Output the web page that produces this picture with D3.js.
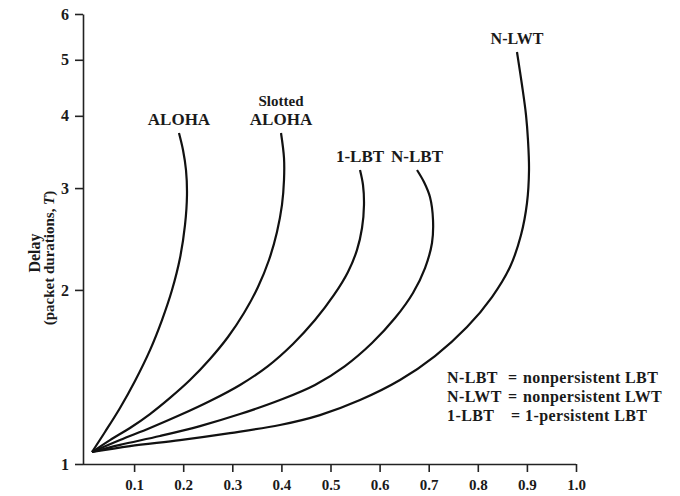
<!DOCTYPE html>
<html><head><meta charset="utf-8">
<script src="https://cdn.jsdelivr.net/npm/d3@7"></script>
<style>
body{margin:0;background:#fff;}
svg text{font-family:"Liberation Serif","Times New Roman",serif;font-weight:bold;fill:#1a1a1a;}
</style></head>
<body><svg id="c" width="680" height="496"></svg>
<script>
const xTicks = [0.1,0.2,0.3,0.4,0.5,0.6,0.7,0.8,0.9,1.0];
const yTicks = [1,2,3,4,5,6];
const seriesNames = [["ALOHA"],["Slotted","ALOHA"],["1-LBT"],["N-LBT"],["N-LWT"]];
const aloha = [[0.0143,1.049],[0.0407,1.136],[0.0713,1.250],[0.1018,1.392],[0.1324,1.574],[0.1568,1.774],[0.1772,1.999],[0.1935,2.271],[0.2037,2.590],[0.2077,2.919],[0.2057,3.224],[0.1996,3.491],[0.1914,3.736]];
const slotted = [[0.0143,1.049],[0.0509,1.100],[0.0916,1.154],[0.1324,1.220],[0.1731,1.301],[0.2138,1.397],[0.2546,1.519],[0.2912,1.658],[0.3238,1.824],[0.3523,2.023],[0.3747,2.253],[0.3910,2.519],[0.4012,2.805],[0.4053,3.098],[0.4053,3.382],[0.3992,3.736]];
const lbt1 = [[0.0143,1.049],[0.0713,1.100],[0.1324,1.154],[0.1935,1.215],[0.2546,1.285],[0.3157,1.370],[0.3727,1.477],[0.4236,1.613],[0.4684,1.774],[0.5071,1.960],[0.5356,2.148],[0.5540,2.345],[0.5642,2.559],[0.5682,2.805],[0.5662,3.037],[0.5601,3.224]];
const nlbt = [[0.0143,1.049],[0.0713,1.079],[0.1527,1.118],[0.2342,1.163],[0.3157,1.220],[0.3971,1.290],[0.4684,1.370],[0.5295,1.477],[0.5845,1.619],[0.6314,1.788],[0.6680,1.976],[0.6925,2.182],[0.7067,2.411],[0.7088,2.642],[0.7026,2.895],[0.6904,3.073],[0.6762,3.224]];
const nlwt = [[0.0143,1.049],[0.0916,1.074],[0.1935,1.100],[0.2953,1.131],[0.3971,1.168],[0.4786,1.215],[0.5601,1.290],[0.6415,1.397],[0.7128,1.537],[0.7780,1.725],[0.8289,1.944],[0.8656,2.191],[0.8880,2.489],[0.9002,2.827],[0.9043,3.224],[0.9022,3.633],[0.8982,4.013],[0.8900,4.523],[0.8798,5.158]];
const legendKeys = ["N-LBT","N-LWT","1-LBT"];
const legendVals = ["nonpersistent LBT","nonpersistent LWT","1-persistent LBT"];

const svg = d3.select("#c");
const x = d3.scaleLinear().domain([0,1]).range([85,576]);
const y = d3.scaleLog().domain([1,6]).range([464,14]);

// axes
const xAxis = svg.append("g").attr("transform","translate(0,464)")
  .call(d3.axisBottom(x).tickValues(xTicks).tickFormat(d3.format(".1f")).tickSize(8).tickSizeOuter(0));
xAxis.select(".domain").attr("d","M83,0.5H"+x(1));
xAxis.selectAll("text").attr("dy","0").attr("y",26).style("font-size","15px");
const yAxis = svg.append("g").attr("transform","translate(83,0)")
  .call(d3.axisLeft(y).tickValues(yTicks).tickFormat(d3.format("d")).tickSize(8).tickSizeOuter(0));
yAxis.selectAll("text").attr("x",-14).style("font-size","16px");
svg.selectAll(".domain, .tick line").attr("stroke","#222").attr("stroke-width",1.6);

// y label
svg.append("text").attr("transform","translate(40,253) rotate(-90)").attr("text-anchor","middle")
  .style("font-size","16px").text("Delay");
const yl2 = svg.append("text").attr("transform","translate(54,258) rotate(-90)").attr("text-anchor","middle").style("font-size","15px");
yl2.append("tspan").text("(packet durations, ");
yl2.append("tspan").style("font-style","italic").text("T");
yl2.append("tspan").text(")");

// curves
const line = d3.line().x(d=>x(d[0])).y(d=>y(d[1])).curve(d3.curveCatmullRom.alpha(0.5));
const all = [aloha, slotted, lbt1, nlbt, nlwt];
svg.append("g").selectAll("path").data(all).join("path")
  .attr("d",line).attr("fill","none").attr("stroke","#111").attr("stroke-width",2.2);

// curve labels
all.forEach((s,i)=>{
  const end = s[s.length-1];
  const lines = seriesNames[i];
  const t = svg.append("text").attr("text-anchor","middle").style("font-size", i===4?"16px":"17px");
  lines.forEach((ln,j)=>{
    t.append("tspan").attr("x",x(end[0])).attr("y",y(end[1]) - 8 - (lines.length-1-j)*19)
      .style("font-size", (lines.length>1 && j===0)?"15px":null).text(ln);
  });
});

// legend
const lg = svg.append("g").style("font-size","16px").style("letter-spacing","0.4px");
legendKeys.forEach((k,i)=>{
  const yy = 383 + i*19;
  lg.append("text").attr("x",447).attr("y",yy).text(k);
  lg.append("text").attr("x", i===2?511:508).attr("y",yy).text("=");
  lg.append("text").attr("x", i===2?525:523).attr("y",yy).text(legendVals[i]);
});
</script></body></html>
